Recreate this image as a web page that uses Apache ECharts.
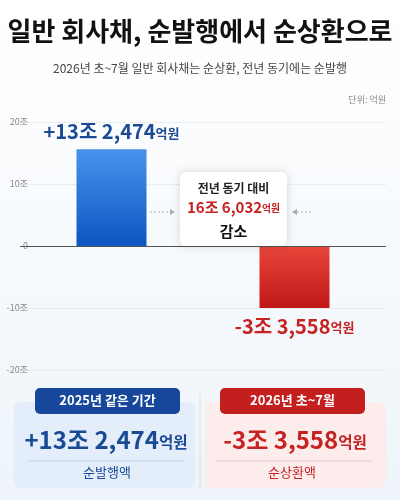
<!DOCTYPE html><html><head><meta charset="utf-8"><script src="https://cdn.jsdelivr.net/npm/echarts@6/dist/echarts.min.js"></script>
<style>html,body{margin:0;padding:0;background:#f3f7fb}#c{width:400px;height:500px}</style></head><body><div id="c"></div><script>
const categories=['2025년 같은 기간','2026년 초~7월'];
const values=[15.6,-10];
const labels=['+13조 2,474','-3조 3,558'];
const tickLabels={'20':'20조','10':'10조','0':'0','-10':'-10조','-20':'-20조'};
const F='"Noto Sans CJK KR","Noto Sans",sans-serif';
const chart=echarts.init(document.getElementById('c'));
const rich=(c,s)=>({n:{fontSize:s,fontWeight:'bold',color:c,fontFamily:F},u:{fontSize:s*0.65,fontWeight:'bold',color:c,fontFamily:F,verticalAlign:'bottom',padding:[0,0,2,0]}});
const grich=(c,s)=>({n:{fontSize:s,fontWeight:'bold',fill:c,fontFamily:F},u:{fontSize:s*0.65,fontWeight:'bold',fill:c,fontFamily:F,verticalAlign:'bottom',padding:[0,0,2,0]}});
chart.setOption({
backgroundColor:{type:'linear',x:0,y:0,x2:0,y2:1,colorStops:[{offset:0,color:'#ffffff'},{offset:1,color:'#eef4fa'}]},
textStyle:{fontFamily:F},
grid:{left:20,right:14,top:122,bottom:130},
xAxis:{type:'category',data:categories,axisLine:{show:false},axisTick:{show:false},axisLabel:{show:false}},
yAxis:{type:'value',min:-20,max:20,interval:10,axisLine:{show:false},axisTick:{show:false},
 axisLabel:{color:'#888',fontSize:9,margin:-8,align:'right',formatter:v=>tickLabels[String(v)]},
 splitLine:{lineStyle:{color:'#ddd',type:'dotted'}}},
series:[{type:'bar',barWidth:70,data:values.map((v,i)=>({value:v,
 itemStyle:{color:i==0?{type:'linear',x:0,y:0,x2:0,y2:1,colorStops:[{offset:0,color:'#4a93ec'},{offset:1,color:'#0c55c2'}]}:{type:'linear',x:0,y:0,x2:0,y2:1,colorStops:[{offset:0,color:'#e8453a'},{offset:1,color:'#c01818'}]}},
 label:{show:true,position:i==0?'top':'bottom',distance:8,formatter:'{n|'+labels[i]+'}{u|억원}',rich:rich(i==0?'#1a4a96':'#c62222',20)}})),
 markLine:{symbol:'none',silent:true,label:{show:false},lineStyle:{color:'#555',type:'solid',width:1.2},data:[{yAxis:0}]}}],
graphic:[
{type:'text',left:'center',top:18,style:{text:'일반 회사채, 순발행에서 순상환으로',font:'bold 26px '+F,fill:'#111'}},
{type:'text',left:'center',top:62,style:{text:'2026년 초~7월 일반 회사채는 순상환, 전년 동기에는 순발행',font:'12px '+F,fill:'#444'}},
{type:'text',right:14,top:95,style:{text:'단위: 억원',font:'9px '+F,fill:'#888'}},
{type:'rect',z:10,shape:{x:180,y:172,width:107,height:74,r:6},style:{fill:'#fff',shadowBlur:8,shadowColor:'rgba(0,0,0,0.15)'}},
{type:'text',z:11,x:233.5,y:182,style:{text:'전년 동기 대비',font:'bold 12px '+F,fill:'#222',align:'center'}},
{type:'text',z:11,x:233.5,y:200,style:{text:'{n|16조 6,032}{u|억원}',align:'center',rich:grich('#c62222',15)}},
{type:'text',z:11,x:233.5,y:224,style:{text:'감소',font:'bold 15px '+F,fill:'#111',align:'center'}},
{type:'line',shape:{x1:150,y1:212,x2:170,y2:212},style:{stroke:'#aaa',lineDash:[2,2],lineWidth:1}},
{type:'polygon',shape:{points:[[170,209],[175,212],[170,215]]},style:{fill:'#aaa'}},
{type:'line',shape:{x1:297,y1:212,x2:312,y2:212},style:{stroke:'#aaa',lineDash:[2,2],lineWidth:1}},
{type:'polygon',shape:{points:[[297,209],[292,212],[297,215]]},style:{fill:'#aaa'}},
{type:'rect',shape:{x:14,y:402,width:181,height:86,r:6},style:{fill:'#e4eefa'}},
{type:'rect',shape:{x:205,y:402,width:181,height:86,r:6},style:{fill:'#fdecec'}},
{type:'line',shape:{x1:200,y1:394,x2:200,y2:490},style:{stroke:'#ddd',lineWidth:1}},
{type:'rect',shape:{x:35,y:388,width:145,height:26,r:5},style:{fill:'#17479a'}},
{type:'rect',shape:{x:220,y:388,width:145,height:26,r:5},style:{fill:'#c41f1f'}},
{type:'text',x:107.5,y:394,style:{text:'2025년 같은 기간',font:'bold 13px '+F,fill:'#fff',align:'center'}},
{type:'text',x:292.5,y:394,style:{text:'2026년 초~7월',font:'bold 13px '+F,fill:'#fff',align:'center'}},
{type:'text',x:106,y:428,style:{text:'{n|+13조 2,474}{u|억원}',align:'center',rich:grich('#1a4a96',24)}},
{type:'text',x:295,y:428,style:{text:'{n|-3조 3,558}{u|억원}',align:'center',rich:grich('#c62222',24)}},
{type:'line',shape:{x1:27,y1:461,x2:185,y2:461},style:{stroke:'#c5d3e6',lineWidth:1}},
{type:'line',shape:{x1:215,y1:461,x2:373,y2:461},style:{stroke:'#eccaca',lineWidth:1}},
{type:'text',x:107,y:466,style:{text:'순발행액',font:'13px '+F,fill:'#1a4a96',align:'center'}},
{type:'text',x:292,y:466,style:{text:'순상환액',font:'13px '+F,fill:'#c62222',align:'center'}}
]});
</script></body></html>
